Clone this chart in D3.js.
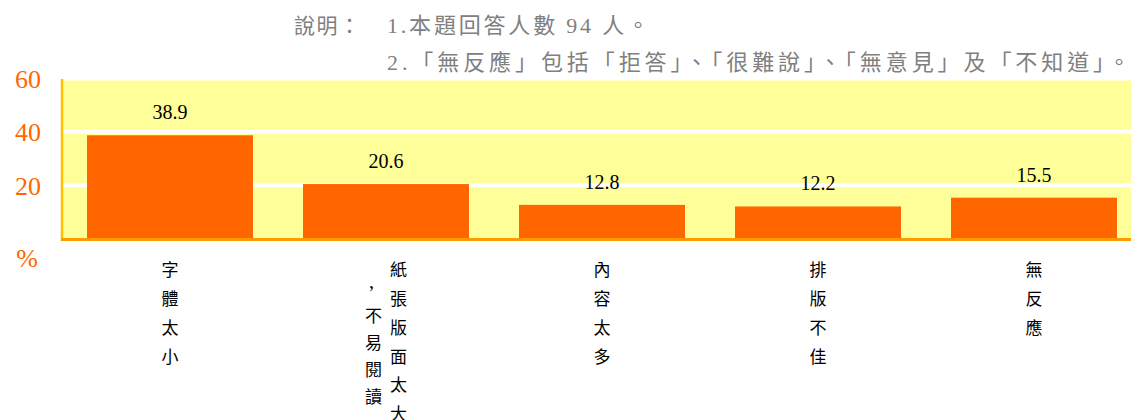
<!DOCTYPE html>
<html>
<head>
<meta charset="utf-8">
<script src="https://cdn.jsdelivr.net/npm/d3@7"></script>
<style>
  body { margin: 0; background: #fff; }
  svg { display: block; }
</style>
</head>
<body>
<div id="chart"></div>
<script>
'use strict';

// data
var categories = ["字體太小", "紙張版面太大,不易閱讀", "內容太多", "排版不佳", "無反應"];
var values = [38.9, 20.6, 12.8, 12.2, 15.5];
var yTicks = [20, 40, 60];
var notes = ["1.本題回答人數 94 人。", "2.「無反應」包括「拒答」、「很難說」、「無意見」及「不知道」。"];

var width = 1131, height = 420;
var serif = "'Liberation Serif', 'Times New Roman', serif";
var mixed = "'Liberation Serif', 'Noto Sans CJK TC', serif";
var cjk = "'Noto Sans CJK TC', 'Liberation Serif', serif";

var svg = d3.select("#chart").//
append("svg").//
attr("width", width).//
attr("height", height);

var x = d3.scaleBand().//
domain(categories).//
range([62, 1142]).//
paddingInner(0.2315).//
paddingOuter(0.1157);

var y = d3.scaleLinear().//
domain([0, 60]).//
range([239, 79]);

// plot background
svg.append("rect").//
attr("x", 62).attr("y", y(60)).//
attr("width", width - 62).attr("height", y(0) - y(60)).//
attr("fill", "#FFFF99");

// white grid bands
svg.selectAll(".grid").data(yTicks).enter().append("line").//
attr("x1", 63).attr("x2", width).//
attr("y1", function(d) { return y(d) - 0.5; }).//
attr("y2", function(d) { return y(d) - 0.5; }).//
attr("stroke", "#fff").attr("stroke-width", 4);

// bars
svg.selectAll(".bar").data(values).enter().append("rect").//
attr("x", function(d, i) { return x(categories[i]); }).//
attr("y", function(d) { return y(d); }).//
attr("width", x.bandwidth()).//
attr("height", function(d) { return y(0) - y(d); }).//
attr("fill", "#FF6600");

// value labels
svg.selectAll(".val").data(values).enter().append("text").//
attr("x", function(d, i) { return x(categories[i]) + x.bandwidth() / 2; }).//
attr("y", function(d) { return y(d) - 16; }).//
attr("text-anchor", "middle").//
attr("font-family", serif).attr("font-size", 20).attr("fill", "#000").//
text(function(d) { return d.toFixed(1); });

// axes lines
svg.append("line").//
attr("x1", 62).attr("x2", 62).attr("y1", y(60)).attr("y2", y(0) + 2).//
attr("stroke", "#FFC000").attr("stroke-width", 2.5);
svg.append("line").//
attr("x1", 61).attr("x2", width).attr("y1", y(0) + 0.5).attr("y2", y(0) + 0.5).//
attr("stroke", "#FF9900").attr("stroke-width", 3);

// y tick labels
svg.selectAll(".ytick").data(yTicks).enter().append("text").//
attr("x", 41).attr("y", function(d) { return y(d); }).//
attr("dy", "0.35em").attr("text-anchor", "end").//
attr("font-family", serif).attr("font-size", 26).attr("fill", "#FF6600").//
text(function(d) { return d; });
svg.append("text").//
attr("x", 27).attr("y", 258).attr("dy", "0.35em").attr("text-anchor", "middle").//
attr("font-family", serif).attr("font-size", 26).attr("fill", "#FF6600").//
text("%");

// vertical category labels, stacked characters, wrapping after 6 cells
var pitch = 28.8, maxRows = 6, colGap = 25;
categories.forEach(function(cat, i) {
	var cx = x(cat) + x.bandwidth() / 2;
	var chars = Array.from(cat);
	var cols = [];
	for (var k = 0; k < chars.length; k += maxRows) cols.push(chars.slice(k, k + maxRows));
	cols.forEach(function(col, c) {
		var colX = cx + ((cols.length - 1) / 2 - c) * colGap;
		var cy = 270;
		col.forEach(function(ch) {
			if (ch === ",") {
				svg.append("text").attr("x", colX - 2).attr("y", cy + 18).//
				attr("text-anchor", "middle").attr("font-family", serif).//
				attr("font-size", 20).attr("fill", "#000").text(ch);
				cy += 46;
				return;
			}
			svg.append("text").attr("x", colX).attr("y", cy).//
			attr("dy", "0.36em").attr("text-anchor", "middle").//
			attr("font-family", cjk).attr("font-size", 17).attr("fill", "#000").//
			text(ch);
			cy += (c > 0 ? 27 : pitch);
		});
	});
});

// notes
svg.append("text").//
attr("x", 294).attr("y", 33).//
attr("font-family", cjk).attr("font-size", 21).attr("fill", "#808080").//
attr("textLength", 66).attr("lengthAdjust", "spacing").//
text("說明：");
svg.selectAll(".note").data(notes).enter().append("text").//
attr("x", 387).attr("y", function(d, i) { return 33 + i * 37; }).//
attr("font-family", mixed).attr("font-size", 22).attr("fill", "#808080").//
attr("textLength", function(d, i) { return i === 0 ? 262 : 743; }).//
attr("lengthAdjust", "spacing").//
text(function(d) { return d; });
</script>
</body>
</html>
